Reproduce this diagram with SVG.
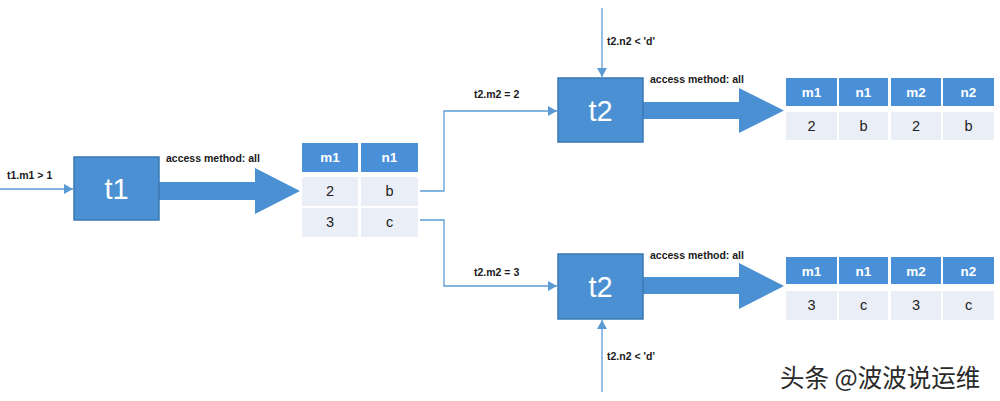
<svg xmlns="http://www.w3.org/2000/svg" width="1000" height="401" viewBox="0 0 1000 401">
<defs>
<style>
.box{fill:#4a90d2;stroke:#3b78b4;stroke-width:1.5}
.boxt{font-family:"Liberation Sans",Arial,sans-serif;font-size:29px;fill:#ffffff;text-anchor:middle}
.lbl{font-family:"Liberation Sans",Arial,sans-serif;font-size:10.5px;font-weight:bold;fill:#1a1a1a}
.hd{fill:#4a90d9}
.cell{fill:#e9eef7}
.hdt{font-family:"Liberation Sans",Arial,sans-serif;font-size:13.5px;font-weight:bold;fill:#ffffff;text-anchor:middle}
.ct{font-family:"Liberation Sans",Arial,sans-serif;font-size:14.5px;fill:#222;text-anchor:middle}
.ln{fill:none;stroke:#5b9bd5;stroke-width:1.3}
.fat{fill:#4a90d2}
.wm{font-family:"Noto Sans CJK SC",sans-serif;font-size:24.5px;fill:#2a2a2a;stroke:#ffffff;stroke-width:0.6;paint-order:stroke}
</style>
<marker id="ah" markerWidth="10" markerHeight="10" refX="9" refY="5" orient="auto" markerUnits="userSpaceOnUse">
<path d="M0,0 L9,5 L0,10 Z" fill="#5b9bd5"/>
</marker>
</defs>

<g id="connectors">
<path class="ln" d="M0,189 L73,189" marker-end="url(#ah)"/>
<path class="ln" d="M420,191 L444,191 L444,111 L557,111" marker-end="url(#ah)"/>
<path class="ln" d="M420,220 L444,220 L444,286 L557,286" marker-end="url(#ah)"/>
<path class="ln" d="M602,8 L602,77" marker-end="url(#ah)"/>
<path class="ln" d="M602,392 L602,320" marker-end="url(#ah)"/>
<polygon class="fat" points="159,182 255,182 255,168 300,191 255,214 255,200 159,200"/>
<polygon class="fat" points="643,102 739,102 739,88 784,110.5 739,133 739,119 643,119"/>
<polygon class="fat" points="643,277 739,277 739,263 784,286 739,309 739,294 643,294"/>
</g>

<g id="labels">
<text class="lbl" x="7" y="179">t1.m1 &gt; 1</text>
<text class="lbl" x="166" y="162">access method: all</text>
<text class="lbl" x="474" y="98">t2.m2 = 2</text>
<text class="lbl" x="474" y="276">t2.m2 = 3</text>
<text class="lbl" x="607" y="45">t2.n2 &lt; 'd'</text>
<text class="lbl" x="607" y="360">t2.n2 &lt; 'd'</text>
<text class="lbl" x="650" y="83">access method: all</text>
<text class="lbl" x="650" y="259">access method: all</text>
</g>

<g id="t1">
<rect class="box" x="74" y="157" width="85" height="63"/>
<text class="boxt" x="116.5" y="199">t1</text>
</g>

<g id="t2-top">
<rect class="box" x="558" y="78" width="85" height="64"/>
<text class="boxt" x="600.5" y="121">t2</text>
</g>

<g id="t2-bottom">
<rect class="box" x="558" y="254" width="85" height="65"/>
<text class="boxt" x="600.5" y="297">t2</text>
</g>

<g id="table1">
<rect class="hd" x="302" y="143" width="56" height="29"/>
<rect class="hd" x="361" y="143" width="57" height="29"/>
<rect class="cell" x="302" y="177" width="56" height="29"/>
<rect class="cell" x="361" y="177" width="57" height="29"/>
<rect class="cell" x="302" y="208" width="56" height="29"/>
<rect class="cell" x="361" y="208" width="57" height="29"/>
<text class="hdt" x="330" y="162">m1</text>
<text class="hdt" x="389.5" y="162">n1</text>
<text class="ct" x="330" y="196">2</text>
<text class="ct" x="389.5" y="196">b</text>
<text class="ct" x="330" y="227">3</text>
<text class="ct" x="389.5" y="227">c</text>
</g>

<g id="table-top">
<rect class="hd" x="786" y="78" width="51" height="28"/>
<rect class="hd" x="839" y="78" width="49" height="28"/>
<rect class="hd" x="891" y="78" width="50" height="28"/>
<rect class="hd" x="943" y="78" width="51" height="28"/>
<rect class="cell" x="786" y="112" width="51" height="28"/>
<rect class="cell" x="839" y="112" width="49" height="28"/>
<rect class="cell" x="891" y="112" width="50" height="28"/>
<rect class="cell" x="943" y="112" width="51" height="28"/>
<text class="hdt" x="811.5" y="97">m1</text>
<text class="hdt" x="863.5" y="97">n1</text>
<text class="hdt" x="916" y="97">m2</text>
<text class="hdt" x="968.5" y="97">n2</text>
<text class="ct" x="811.5" y="131">2</text>
<text class="ct" x="863.5" y="131">b</text>
<text class="ct" x="916" y="131">2</text>
<text class="ct" x="968.5" y="131">b</text>
</g>

<g id="table-bottom">
<rect class="hd" x="786" y="257" width="51" height="27"/>
<rect class="hd" x="839" y="257" width="49" height="27"/>
<rect class="hd" x="891" y="257" width="50" height="27"/>
<rect class="hd" x="943" y="257" width="51" height="27"/>
<rect class="cell" x="786" y="291" width="51" height="29"/>
<rect class="cell" x="839" y="291" width="49" height="29"/>
<rect class="cell" x="891" y="291" width="50" height="29"/>
<rect class="cell" x="943" y="291" width="51" height="29"/>
<text class="hdt" x="811.5" y="275.5">m1</text>
<text class="hdt" x="863.5" y="275.5">n1</text>
<text class="hdt" x="916" y="275.5">m2</text>
<text class="hdt" x="968.5" y="275.5">n2</text>
<text class="ct" x="811.5" y="310">3</text>
<text class="ct" x="863.5" y="310">c</text>
<text class="ct" x="916" y="310">3</text>
<text class="ct" x="968.5" y="310">c</text>
</g>

<text class="wm" x="780" y="387">头条 @波波说运维</text>
</svg>
